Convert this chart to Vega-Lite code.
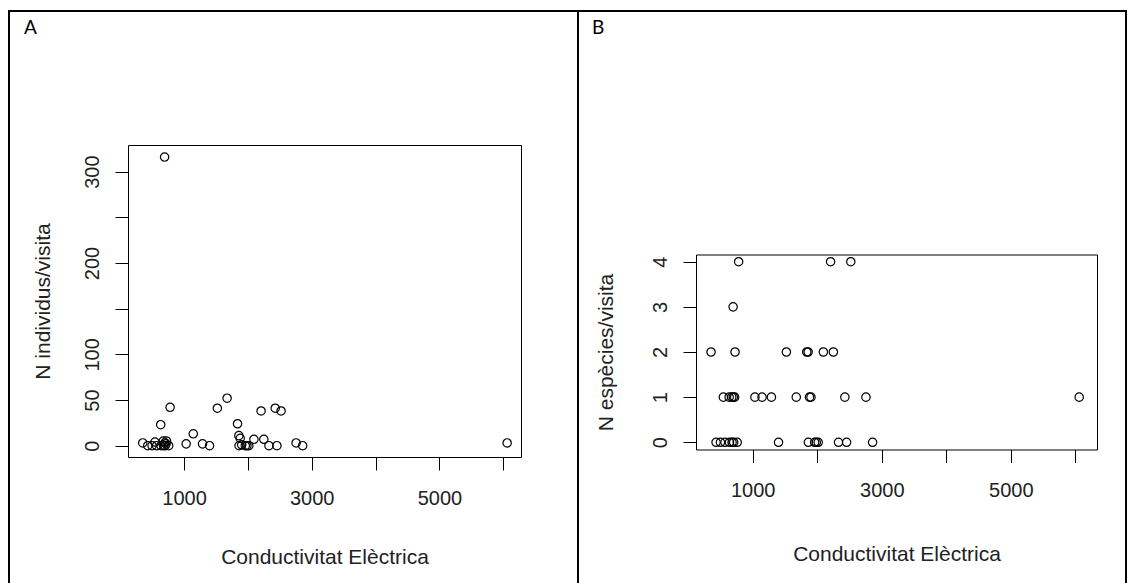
{
  "$schema": "https://vega.github.io/schema/vega-lite/v6.json",
  "background": "white",
  "padding": {"left": 8, "top": 10, "right": 0, "bottom": 0},
  "autosize": {"type": "pad"},
  "bounds": "flush",
  "spacing": 0,
  "data": {"values": [
    {"ce": 354, "ind": 3, "sp": 2},
    {"ce": 432, "ind": 0, "sp": 0},
    {"ce": 500, "ind": 0, "sp": 0},
    {"ce": 545, "ind": 4, "sp": 1},
    {"ce": 570, "ind": 0, "sp": 0},
    {"ce": 635, "ind": 23, "sp": 1},
    {"ce": 640, "ind": 0, "sp": 0},
    {"ce": 675, "ind": 5, "sp": 1},
    {"ce": 680, "ind": 0, "sp": 0},
    {"ce": 696, "ind": 316, "sp": 3},
    {"ce": 700, "ind": 3, "sp": 1},
    {"ce": 705, "ind": 0, "sp": 0},
    {"ce": 720, "ind": 2, "sp": 1},
    {"ce": 726, "ind": 5, "sp": 2},
    {"ce": 760, "ind": 0, "sp": 0},
    {"ce": 782, "ind": 42, "sp": 4},
    {"ce": 1034, "ind": 2, "sp": 1},
    {"ce": 1145, "ind": 13, "sp": 1},
    {"ce": 1290, "ind": 2, "sp": 1},
    {"ce": 1400, "ind": 0, "sp": 0},
    {"ce": 1522, "ind": 41, "sp": 2},
    {"ce": 1675, "ind": 52, "sp": 1},
    {"ce": 1838, "ind": 24, "sp": 2},
    {"ce": 1859, "ind": 11, "sp": 2},
    {"ce": 1862, "ind": 0, "sp": 0},
    {"ce": 1880, "ind": 8, "sp": 1},
    {"ce": 1903, "ind": 1, "sp": 1},
    {"ce": 1960, "ind": 0, "sp": 0},
    {"ce": 1985, "ind": 0, "sp": 0},
    {"ce": 2015, "ind": 0, "sp": 0},
    {"ce": 2095, "ind": 7, "sp": 2},
    {"ce": 2207, "ind": 38, "sp": 4},
    {"ce": 2250, "ind": 7, "sp": 2},
    {"ce": 2330, "ind": 0, "sp": 0},
    {"ce": 2428, "ind": 41, "sp": 1},
    {"ce": 2455, "ind": 0, "sp": 0},
    {"ce": 2520, "ind": 38, "sp": 4},
    {"ce": 2755, "ind": 3, "sp": 1},
    {"ce": 2858, "ind": 0, "sp": 0},
    {"ce": 6060, "ind": 3, "sp": 1}
  ]},
  "config": {
    "view": {"stroke": "black", "strokeWidth": 2},
    "axis": {
      "grid": false,
      "tickSize": 13,
      "tickColor": "black",
      "tickWidth": 1,
      "domainColor": "black",
      "domainWidth": 1,
      "labelFont": "Liberation Sans",
      "labelFontSize": 20,
      "labelColor": "#222",
      "titleFont": "Liberation Sans",
      "titleFontSize": 21,
      "titleFontWeight": "normal",
      "titleColor": "#222",
      "labelFlush": false,
      "labelOverlap": false,
      "minExtent": 0
    }
  },
  "hconcat": [
    {
      "width": 569,
      "height": 580,
      "title": {"text": "A", "anchor": "start", "frame": "group", "orient": "top", "offset": -41.5, "dx": 15, "baseline": "alphabetic", "font": "Lato", "fontSize": 19, "fontWeight": "normal", "color": "black"},
      "layer": [
        {
          "mark": {"type": "point", "shape": "circle", "filled": false, "stroke": "black", "strokeWidth": 1.2, "size": 70, "opacity": 1},
          "encoding": {
            "x": {"field": "ce", "type": "quantitative",
              "scale": {"domain": [123, 6277], "range": [119, 512], "nice": false, "zero": false},
              "axis": {"orient": "bottom", "offset": -134, "values": [1000, 2000, 3000, 4000, 5000, 6000],
                "labelExpr": "datum.value % 2000 == 1000 ? format(datum.value, 'd') : ''",
                "labelPadding": 18,
                "title": "Conductivitat Elèctrica", "titleBaseline": "alphabetic", "titleY": 106.5}},
            "y": {"field": "ind", "type": "quantitative",
              "scale": {"domain": [-12.4, 329.2], "range": [446, 134], "nice": false, "zero": false},
              "axis": {"orient": "left", "offset": -119, "values": [0, 50, 100, 150, 200, 250, 300],
                "labelExpr": "datum.value == 150 || datum.value == 250 ? '' : format(datum.value, 'd')",
                "labelAngle": 270, "labelAlign": "center", "labelBaseline": "bottom", "labelPadding": 13,
                "title": "N individus/visita", "titleAngle": 270, "titleAlign": "center", "titleBaseline": "alphabetic", "titleX": -78.5}}
          }
        },
        {
          "mark": {"type": "point", "opacity": 0},
          "encoding": {
            "x": {"field": "ce", "type": "quantitative",
              "scale": {"domain": [123, 6277], "range": [119, 512], "nice": false, "zero": false},
              "axis": {"orient": "top", "offset": -134, "ticks": false, "labels": false, "title": null}},
            "y": {"field": "ind", "type": "quantitative",
              "scale": {"domain": [-12.4, 329.2], "range": [446, 134], "nice": false, "zero": false},
              "axis": {"orient": "right", "offset": -57, "ticks": false, "labels": false, "title": null}}
          }
        }
      ],
      "resolve": {"axis": {"x": "independent", "y": "independent"}}
    },
    {
      "width": 548,
      "height": 580,
      "title": {"text": "B", "anchor": "start", "frame": "group", "orient": "top", "offset": -41.5, "dx": 14, "baseline": "alphabetic", "font": "Lato", "fontSize": 19, "fontWeight": "normal", "color": "black"},
      "layer": [
        {
          "mark": {"type": "point", "shape": "circle", "filled": false, "stroke": "black", "strokeWidth": 1.2, "size": 70, "opacity": 1},
          "encoding": {
            "x": {"field": "ce", "type": "quantitative",
              "scale": {"domain": [121, 6336], "range": [118, 519], "nice": false, "zero": false},
              "axis": {"orient": "bottom", "offset": -141.5, "values": [1000, 2000, 3000, 4000, 5000, 6000],
                "labelExpr": "datum.value % 2000 == 1000 ? format(datum.value, 'd') : ''",
                "labelPadding": 18,
                "title": "Conductivitat Elèctrica", "titleBaseline": "alphabetic", "titleY": 111}},
            "y": {"field": "sp", "type": "quantitative",
              "scale": {"domain": [-0.16, 4.16], "range": [438.5, 243.5], "nice": false, "zero": false},
              "axis": {"orient": "left", "offset": -118, "values": [0, 1, 2, 3, 4],
                "labelAngle": 270, "labelAlign": "center", "labelBaseline": "bottom", "labelPadding": 13,
                "title": "N espècies/visita", "titleAngle": 270, "titleAlign": "center", "titleBaseline": "alphabetic", "titleX": -83.5}}
          }
        },
        {
          "mark": {"type": "point", "opacity": 0},
          "encoding": {
            "x": {"field": "ce", "type": "quantitative",
              "scale": {"domain": [121, 6336], "range": [118, 519], "nice": false, "zero": false},
              "axis": {"orient": "top", "offset": -243.5, "ticks": false, "labels": false, "title": null}},
            "y": {"field": "sp", "type": "quantitative",
              "scale": {"domain": [-0.16, 4.16], "range": [438.5, 243.5], "nice": false, "zero": false},
              "axis": {"orient": "right", "offset": -29, "ticks": false, "labels": false, "title": null}}
          }
        }
      ],
      "resolve": {"axis": {"x": "independent", "y": "independent"}}
    }
  ]
}
